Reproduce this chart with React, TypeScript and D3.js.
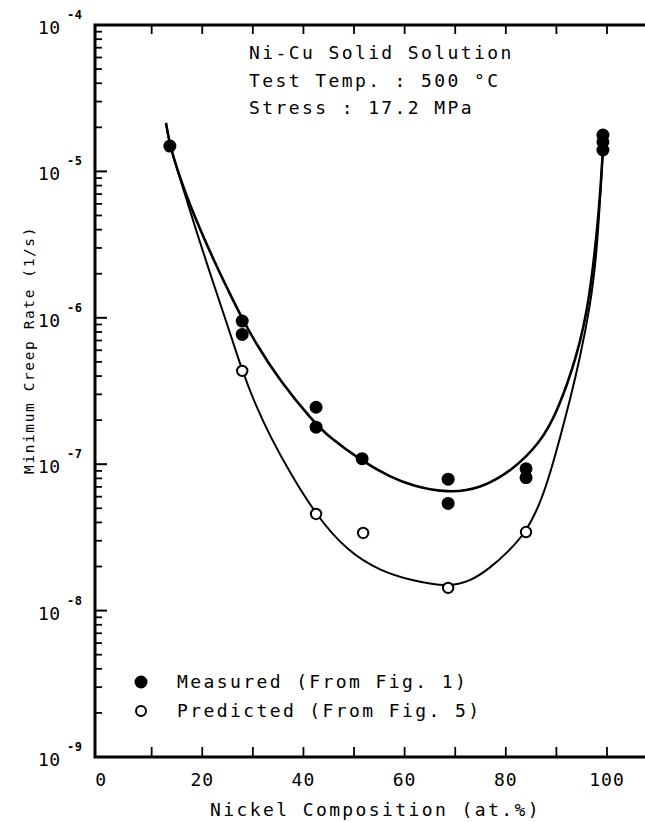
import React from "react";
import * as d3 from "d3";

const measuredX = [13.6, 27.9, 27.9, 42.5, 42.5, 51.6, 68.6, 68.6, 84, 84, 99.2, 99.2, 99.2];
const measuredY = [1.49e-5, 9.5e-7, 7.7e-7, 2.45e-7, 1.79e-7, 1.09e-7, 7.9e-8, 5.4e-8, 9.3e-8, 8.1e-8, 1.77e-5, 1.59e-5, 1.4e-5];

const predictedX = [27.9, 42.5, 51.8, 68.6, 84];
const predictedY = [4.34e-7, 4.57e-8, 3.39e-8, 1.43e-8, 3.44e-8];

const upperCurveX = [12.83, 13.62, 15.6, 17.58, 19.55, 22.52, 25.48, 27.85, 30.42, 35.36, 41.69, 45.25, 51.57, 57.12, 61.64, 68.56, 74.88, 81.4, 86.74, 90.1, 94.05, 96.62, 98.6, 99.21];
const upperCurveY = [2.14e-5, 1.491e-5, 9.02e-6, 5.89e-6, 4.04e-6, 2.37e-6, 1.454e-6, 9.97e-7, 6.83e-7, 3.7e-7, 2.003e-7, 1.51e-7, 1.051e-7, 8.18e-8, 7.1e-8, 6.36e-8, 6.77e-8, 9.13e-8, 1.395e-7, 2.238e-7, 5.4e-7, 1.323e-6, 6.08e-6, 1.445e-5];

const lowerCurveX = [12.83, 13.62, 15.21, 16.98, 18.96, 20.94, 24.1, 26.08, 27.86, 30.43, 33.39, 37.35, 42.49, 48.61, 55.14, 61.66, 68.58, 72.93, 76.88, 80.44, 84.0, 86.76, 88.73, 90.71, 92.69, 94.66, 96.64, 98.02, 99.21];
const lowerCurveY = [2.14e-5, 1.491e-5, 9.91e-6, 6.28e-6, 3.795e-6, 2.331e-6, 1.095e-6, 6.83e-7, 4.4e-7, 2.577e-7, 1.558e-7, 8.71e-8, 4.5e-8, 2.553e-8, 1.865e-8, 1.593e-8, 1.449e-8, 1.58e-8, 1.954e-8, 2.514e-8, 3.44e-8, 5.35e-8, 8.57e-8, 1.51e-7, 2.745e-7, 5.31e-7, 1.185e-6, 2.685e-6, 1.445e-5];

const xTickValues = [10, 20, 30, 40, 50, 60, 70, 80, 90, 100];
const xTickLabels = [0, 20, 40, 60, 80, 100];
const yDecades = [-4, -5, -6, -7, -8, -9];

const infoLines = ["Ni-Cu Solid Solution", "Test Temp. : 500 °C", "Stress : 17.2 MPa"];
const legendLabels = ["Measured (From Fig. 1)", "Predicted (From Fig. 5)"];
const xTitle = "Nickel Composition (at.%)";
const yTitle = "Minimum Creep Rate (1/s)";

const FONT = "'DejaVu Sans Mono', 'Liberation Mono', monospace";

export default function App() {
  const W = 645;
  const H = 822;
  const left = 95;
  const top = 25;
  const bottom = 757;
  const right = 651;

  const x = d3.scaleLinear().domain([-1.2, 108.7]).range([left, right]);
  const y = d3.scaleLog().domain([1e-9, 1e-4]).range([bottom, top]);

  const line = d3
    .line<[number, number]>()
    .x((d) => x(d[0]))
    .y((d) => y(d[1]))
    .curve(d3.curveBasis);

  const upper = upperCurveX.map((v, i) => [v, upperCurveY[i]] as [number, number]);
  const lower = lowerCurveX.map((v, i) => [v, lowerCurveY[i]] as [number, number]);

  const minorTicks: number[] = [];
  for (let e = -9; e < -4; e++) {
    for (let m = 2; m <= 9; m++) minorTicks.push(m * Math.pow(10, e));
  }

  const textStyle: React.CSSProperties = {
    fontFamily: FONT,
    fontSize: 18,
    letterSpacing: 2.4,
    fill: "#000",
  };

  return (
    <svg
      width={W}
      height={H}
      style={{ position: "absolute", left: 0, top: 0, background: "#fff" }}
    >
      <rect x={0} y={0} width={W} height={H} fill="#fff" />
      {/* frame */}
      <path
        d={`M${left},${bottom} L${left},${top} L${right},${top} L${right},${bottom} Z`}
        fill="none"
        stroke="#000"
        strokeWidth={3}
      />
      {/* x ticks bottom & top */}
      {xTickValues.map((v) => (
        <g key={"xt" + v}>
          <line x1={x(v)} x2={x(v)} y1={bottom} y2={bottom - 10} stroke="#000" strokeWidth={1.8} />
          <line x1={x(v)} x2={x(v)} y1={top} y2={top + 9} stroke="#000" strokeWidth={1.8} />
        </g>
      ))}
      {/* y ticks */}
      {yDecades.map((e) => (
        <line key={"yd" + e} x1={left} x2={left + 12} y1={y(Math.pow(10, e))} y2={y(Math.pow(10, e))} stroke="#000" strokeWidth={2} />
      ))}
      {minorTicks.map((v, i) => (
        <line key={"ym" + i} x1={left} x2={left + 7} y1={y(v)} y2={y(v)} stroke="#000" strokeWidth={1.8} />
      ))}
      {/* y tick labels */}
      {yDecades.map((e) => (
        <g key={"yl" + e}>
          <text x={38} y={y(Math.pow(10, e)) + 9} style={{ ...textStyle, letterSpacing: 0.5 }}>
            10
          </text>
          <text x={67} y={y(Math.pow(10, e)) - 6} style={{ ...textStyle, fontSize: 12, letterSpacing: 0.5, fontWeight: "bold" }}>
            {String(e)}
          </text>
        </g>
      ))}
      {/* x tick labels */}
      {xTickLabels.map((v) => (
        <text key={"xl" + v} x={x(v)} y={786} textAnchor="middle" style={{ ...textStyle, letterSpacing: 1 }}>
          {v}
        </text>
      ))}
      {/* axis titles */}
      <text x={210} y={816} style={textStyle}>
        {xTitle}
      </text>
      <text
        transform={`translate(34, 350) rotate(-90)`}
        textAnchor="middle"
        style={{ ...textStyle, fontSize: 14.5, letterSpacing: 1.6 }}
      >
        {yTitle}
      </text>
      {/* info text */}
      {infoLines.map((t, i) => (
        <text key={"info" + i} x={249} y={59 + i * 27.5} style={textStyle}>
          {t}
        </text>
      ))}
      {/* curves */}
      <path d={line(upper) || ""} fill="none" stroke="#000" strokeWidth={2.6} />
      <path d={line(lower) || ""} fill="none" stroke="#000" strokeWidth={2} />
      {/* measured */}
      {measuredX.map((v, i) => (
        <circle key={"m" + i} cx={x(v)} cy={y(measuredY[i])} r={6.5} fill="#000" />
      ))}
      {/* predicted */}
      {predictedX.map((v, i) => (
        <circle key={"p" + i} cx={x(v)} cy={y(predictedY[i])} r={5.2} fill="#fff" stroke="#000" strokeWidth={2} />
      ))}
      {/* legend */}
      <circle cx={141} cy={682} r={6.5} fill="#000" />
      <text x={177} y={688} style={textStyle}>
        {legendLabels[0]}
      </text>
      <circle cx={141} cy={711} r={5} fill="#fff" stroke="#000" strokeWidth={2} />
      <text x={177} y={717} style={textStyle}>
        {legendLabels[1]}
      </text>
    </svg>
  );
}
